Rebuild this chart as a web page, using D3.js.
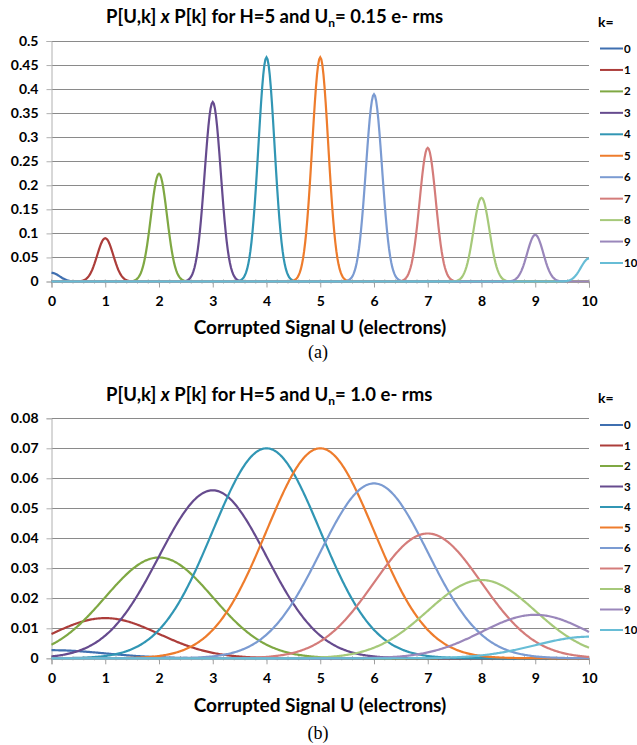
<!DOCTYPE html>
<html>
<head>
<meta charset="utf-8">
<script src="https://cdn.jsdelivr.net/npm/d3@7"></script>
<style>
  body { margin: 0; background: #fff; }
  svg { display: block; }
</style>
</head>
<body>
<svg id="chart" width="637" height="745"></svg>
<script>
// photon number k and the series colours (Excel 2007 palette)
var kValues = [0, 1, 2, 3, 4, 5, 6, 7, 8, 9, 10];
var colors = ["#3f6fb0", "#ac3d3a", "#7fa843", "#664b8e", "#3196b4", "#ee7c2c",
              "#7b9bd2", "#d47c7a", "#a6c97a", "#9a87bb", "#67bdd6"];

// panel (a): Un = 0.15 e- rms, peak height of each curve
var noiseA = 0.15;
var peaksA = [0.018, 0.090, 0.224, 0.373, 0.466, 0.466, 0.389, 0.278, 0.174, 0.097, 0.048];
var yTicksA = [0, 0.05, 0.1, 0.15, 0.2, 0.25, 0.3, 0.35, 0.4, 0.45, 0.5];

// panel (b): Un = 1.0 e- rms
var noiseB = 1.0;
var peaksB = [0.0027, 0.0134, 0.0336, 0.0560, 0.0700, 0.0700, 0.0583, 0.0416, 0.0261, 0.0145, 0.0072];
var yTicksB = [0, 0.01, 0.02, 0.03, 0.04, 0.05, 0.06, 0.07, 0.08];

var xTicks = [0, 1, 2, 3, 4, 5, 6, 7, 8, 9, 10];

var svg = d3.select("#chart");
var font = "Lato, 'Open Sans', sans-serif";

function curve(peak, k, sigma){
	var pts = [];
	for (var i = 0; i <= 500; i++) {
		var u = i * 10 / 500;
		pts.push([u, peak * Math.exp(-(u - k) * (u - k) / (2 * sigma * sigma))]);
	}
	return pts;
}

function drawPanel(opt){
	var g = svg.append("g");
	var x = d3.scaleLinear().domain([0, 10]).range([51.5, 589]);
	var y = d3.scaleLinear().domain([0, opt.yMax]).range([opt.bottom, opt.top]);

	// title
	var t = g.append("text")
		.attr("x", 106).attr("y", opt.titleY)
		.style("font", "bold 18.5px " + font)
		.attr("fill", "#000");
	t.append("tspan").text("P[U,k] ");
	t.append("tspan").style("font-style", "italic").text("x");
	t.append("tspan").text(" P[k] for H=5 and U");
	t.append("tspan").attr("baseline-shift", "-30%").style("font-size", "12px").text("n");
	t.append("tspan").attr("baseline-shift", "0").text("= " + opt.noiseLabel + " e- rms");

	// gridlines
	g.append("g").selectAll("line")
		.data(opt.yTicks.slice(1))
		.join("line")
		.attr("x1", x(0)).attr("x2", x(10))
		.attr("y1", function(d){ return Math.round(y(d)) + 0.5; })
		.attr("y2", function(d){ return Math.round(y(d)) + 0.5; })
		.attr("stroke", "#8a8a8a").attr("stroke-width", 1);

	// y axis
	var yAxis = g.append("g")
		.attr("transform", "translate(" + x(0) + ",0)")
		.call(d3.axisLeft(y).tickValues(opt.yTicks).tickSize(5).tickPadding(8)
			.tickFormat(function(d){ return d3.format("~g")(d); }));
	yAxis.select(".domain").attr("stroke", "#b0b0b0");
	yAxis.selectAll(".tick line").attr("stroke", "#b0b0b0");
	yAxis.selectAll("text").style("font", "bold 14px " + font).attr("fill", "#000");

	// x axis minor ticks
	var minor = d3.range(0, 10.01, 0.2);
	g.append("g").selectAll("line")
		.data(minor)
		.join("line")
		.attr("x1", function(d){ return x(d); }).attr("x2", function(d){ return x(d); })
		.attr("y1", y(0) - 2).attr("y2", y(0) + 2)
		.attr("stroke", "#a0a0a0");

	var xAxis = g.append("g")
		.attr("transform", "translate(0," + y(0) + ")")
		.call(d3.axisBottom(x).tickValues(xTicks).tickSize(6).tickPadding(9).tickFormat(d3.format("d")));
	xAxis.select(".domain").attr("stroke", "#a0a0a0");
	xAxis.selectAll(".tick line").attr("stroke", "#a0a0a0");
	xAxis.selectAll("text").style("font", "bold 14px " + font).attr("fill", "#000");

	// curves
	var line = d3.line()
		.x(function(d){ return x(d[0]); })
		.y(function(d){ return y(d[1]); });

	g.append("g").selectAll("path")
		.data(kValues)
		.join("path")
		.attr("d", function(k){ return line(curve(opt.peaks[k], k, opt.sigma)); })
		.attr("fill", "none")
		.attr("stroke", function(k){ return colors[k]; })
		.attr("stroke-width", 2.2);

	// axis title and panel label
	g.append("text")
		.attr("x", 320).attr("y", opt.axisTitleY)
		.attr("text-anchor", "middle")
		.style("font", "bold 19px " + font)
		.text("Corrupted Signal U (electrons)");

	g.append("text")
		.attr("x", 318).attr("y", opt.labelY)
		.attr("text-anchor", "middle")
		.style("font", "18px 'Liberation Serif', 'Times New Roman', serif")
		.text(opt.label);

	// legend
	g.append("text")
		.attr("x", 598).attr("y", opt.legendTop - 22)
		.style("font", "bold 14px " + font)
		.text("k=");

	var leg = g.append("g").selectAll("g")
		.data(kValues)
		.join("g")
		.attr("transform", function(k){ return "translate(600," + (opt.legendTop + k * opt.legendStep) + ")"; });
	leg.append("line")
		.attr("x1", 0).attr("x2", 23)
		.attr("stroke", function(k){ return colors[k]; })
		.attr("stroke-width", 2);
	leg.append("text")
		.attr("x", 24).attr("y", 4)
		.style("font", "bold 11.5px " + font)
		.text(function(k){ return k; });
}

drawPanel({
	top: 41, bottom: 281.5, yMax: 0.5, yTicks: yTicksA,
	peaks: peaksA, sigma: noiseA, noiseLabel: "0.15",
	titleY: 23, axisTitleY: 334, labelY: 358, label: "(a)",
	legendTop: 48.5, legendStep: 21.45
});

drawPanel({
	top: 418.3, bottom: 658.3, yMax: 0.08, yTicks: yTicksB,
	peaks: peaksB, sigma: noiseB, noiseLabel: "1.0",
	titleY: 401, axisTitleY: 712, labelY: 739, label: "(b)",
	legendTop: 425, legendStep: 20.5
});
</script>
</body>
</html>
